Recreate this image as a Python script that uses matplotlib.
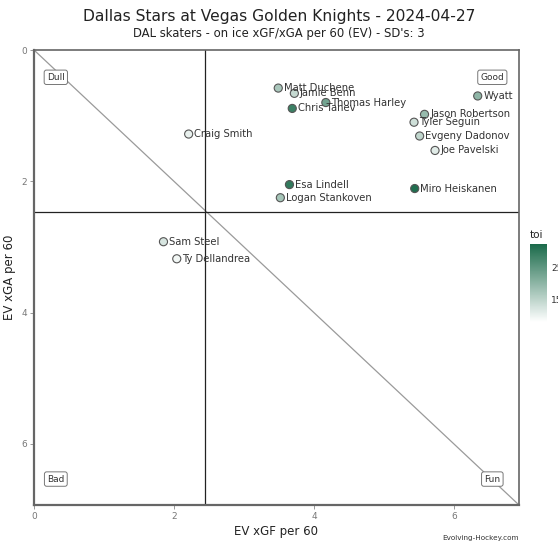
import matplotlib
matplotlib.use("Agg")
import matplotlib.pyplot as plt
import numpy as np
from matplotlib.colors import LinearSegmentedColormap, Normalize

players = ["Matt Duchene", "Jamie Benn", "Thomas Harley", "Chris Tanev", "Wyatt",
           "Jason Robertson", "Tyler Seguin", "Evgeny Dadonov", "Joe Pavelski",
           "Esa Lindell", "Miro Heiskanen", "Logan Stankoven", "Craig Smith",
           "Sam Steel", "Ty Dellandrea"]
xgf = [3.49, 3.72, 4.17, 3.69, 6.34, 5.58, 5.43, 5.51, 5.73, 3.65, 5.44, 3.52, 2.21, 1.85, 2.04]
xga = [0.58, 0.66, 0.80, 0.89, 0.70, 0.98, 1.10, 1.31, 1.53, 2.05, 2.11, 2.25, 1.28, 2.92, 3.18]
toi = [17.0, 14.0, 23.0, 29.0, 20.0, 19.0, 13.0, 14.5, 11.0, 30.0, 32.0, 17.5, 10.0, 12.0, 9.0]
cbar_ticks = [15, 25]

mean_x = 2.45
mean_y = 2.46
lim = 6.93

cmap = LinearSegmentedColormap.from_list("toi", ["#ffffff", "#1a6a4a"])
norm = Normalize(vmin=7.6, vmax=32.7)

fig = plt.figure(figsize=(5.58, 5.44), dpi=100)
ax = fig.add_axes([34/558, 1-505/544, 485/558, 455/544])

ax.set_xlim(0, lim)
ax.set_ylim(lim, 0)

ax.plot([0, lim], [0, lim], color="#9a9a9a", lw=0.9, zorder=1)
ax.axvline(mean_x, color="#222222", lw=0.9, zorder=1)
ax.axhline(mean_y, color="#222222", lw=0.9, zorder=1)

ax.scatter(xgf, xga, c=toi, cmap=cmap, norm=norm, s=34, edgecolors="#555555",
           linewidths=0.8, zorder=3)
for name, x, y in zip(players, xgf, xga):
    ax.annotate(name, (x, y), xytext=(4, 0), textcoords="offset points",
                ha="left", va="center", fontsize=7.2, color="#333333",
                zorder=4, clip_on=True, annotation_clip=True)

box = dict(boxstyle="round,pad=0.3,rounding_size=0.25", fc="white", ec="#777777", lw=0.7)
qlab = [("Dull", 0.045, 0.94), ("Good", 0.945, 0.94), ("Bad", 0.045, 0.057), ("Fun", 0.945, 0.057)]
for t, xx, yy in qlab:
    ax.text(xx, yy, t, transform=ax.transAxes, ha="center", va="center",
            fontsize=6.5, color="#333333", bbox=box, zorder=5)

for side in ["left", "bottom"]:
    ax.spines[side].set_color("#666666")
    ax.spines[side].set_linewidth(1.6)
for side in ["top", "right"]:
    ax.spines[side].set_color("#666666")
    ax.spines[side].set_linewidth(1.2)

ax.set_xticks([0, 2, 4, 6])
ax.set_yticks([0, 2, 4, 6])
ax.tick_params(axis="both", colors="#888888", labelsize=6.5, length=3, width=0.6,
               labelcolor="#777777", pad=2)
ax.set_xlabel("EV xGF per 60", fontsize=8.5, color="#222222", labelpad=3)
ax.set_ylabel("EV xGA per 60", fontsize=8.5, color="#222222", labelpad=4)

fig.text(0.5, 1-17/544, "Dallas Stars at Vegas Golden Knights - 2024-04-27",
         ha="center", va="center", fontsize=11.2, color="#222222")
fig.text(0.5, 1-34/544, "DAL skaters - on ice xGF/xGA per 60 (EV) - SD's: 3",
         ha="center", va="center", fontsize=8.4, color="#222222")
fig.text(519/558, 1-538/544, "Evolving-Hockey.com", ha="right", va="center",
         fontsize=5.2, color="#333333")

cax = fig.add_axes([530/558, 1-322/544, 17/558, 78/544])
sm = matplotlib.cm.ScalarMappable(norm=norm, cmap=cmap)
cb = fig.colorbar(sm, cax=cax)
cb.outline.set_visible(False)
cb.set_ticks(cbar_ticks)
cb.ax.tick_params(labelsize=6.5, length=2, color="white", labelcolor="#333333", pad=1)
cax.set_title("toi", fontsize=7.5, color="#222222", loc="left", pad=4)

fig.savefig("out.png", dpi=100)
